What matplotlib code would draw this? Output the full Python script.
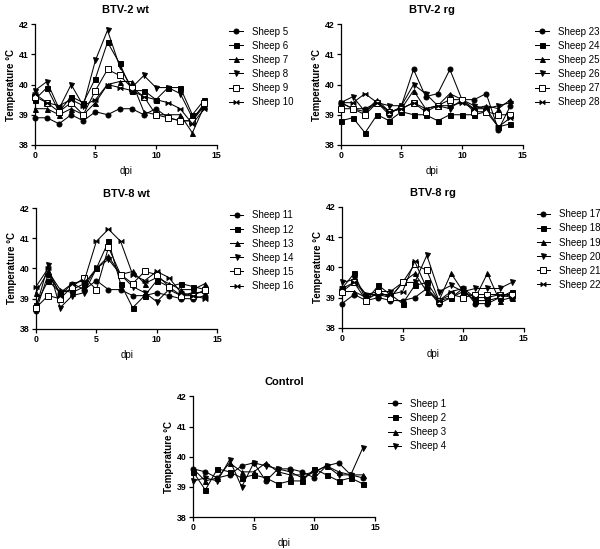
import numpy as np
import matplotlib
matplotlib.use('Agg')
import matplotlib.pyplot as plt
from matplotlib.path import Path

plt.rcParams['font.family'] = ['Liberation Sans', 'DejaVu Sans']

dpi_days = list(range(15))

# BTV-2 wt
btv2wt_names = ['Sheep 5', 'Sheep 6', 'Sheep 7', 'Sheep 8', 'Sheep 9', 'Sheep 10']
btv2wt_vals = [
    [38.9, 38.9, 38.7, 39.0, 38.8, 39.1, 39.0, 39.2, 39.2, 39.0, 39.2, 38.9, 38.8, 38.8, 39.3],
    [39.5, 39.9, 39.1, 39.6, 39.4, 40.2, 41.4, 40.7, 39.8, 39.8, 39.5, 39.9, 39.9, 39.0, 39.5],
    [39.2, 39.2, 39.0, 39.2, 39.0, 39.4, 40.0, 40.1, 40.1, 39.1, 39.0, 39.0, 39.0, 38.4, 39.3],
    [39.8, 40.1, 39.2, 40.0, 39.3, 40.8, 41.8, 40.6, 39.9, 40.3, 39.9, 39.9, 39.7, 38.9, 39.3],
    [39.6, 39.4, 39.1, 39.4, 39.0, 39.8, 40.5, 40.3, 39.9, 39.6, 39.0, 38.9, 38.8, 38.8, 39.4],
    [39.7, 39.4, 39.3, 39.5, 39.3, 39.5, 40.0, 39.9, 39.8, 39.6, 39.5, 39.4, 39.2, 38.7, 39.2],
]

# BTV-2 rg
btv2rg_names = ['Sheep 23', 'Sheep 24', 'Sheep 25', 'Sheep 26', 'Sheep 27', 'Sheep 28']
btv2rg_vals = [
    [39.4, 39.2, 39.2, 39.4, 39.0, 39.3, 40.5, 39.6, 39.7, 40.5, 39.5, 39.5, 39.7, 38.5, 39.3],
    [38.8, 38.9, 38.4, 39.0, 38.8, 39.1, 39.0, 39.0, 38.8, 39.0, 39.0, 39.0, 39.1, 38.6, 38.7],
    [39.4, 39.2, 39.1, 39.5, 39.1, 39.2, 39.8, 39.2, 39.3, 39.7, 39.5, 39.2, 39.3, 39.2, 39.5],
    [39.4, 39.6, 39.1, 39.4, 39.3, 39.3, 40.0, 39.7, 39.3, 39.2, 39.5, 39.3, 39.2, 39.3, 39.4],
    [39.2, 39.2, 39.0, 39.4, 39.1, 39.2, 39.4, 39.1, 39.3, 39.5, 39.5, 39.1, 39.1, 39.0, 39.0],
    [39.4, 39.4, 39.7, 39.4, 39.1, 39.2, 39.4, 39.2, 39.3, 39.3, 39.4, 39.2, 39.2, 38.6, 38.9],
]

# BTV-8 wt
btv8wt_names = ['Sheep 11', 'Sheep 12', 'Sheep 13', 'Sheep 14', 'Sheep 15', 'Sheep 16']
btv8wt_vals = [
    [38.6, 39.8, 39.2, 39.5, 39.3, 39.6, 39.3, 39.3, 39.1, 39.1, 39.2, 39.1, 39.0, 39.0, 39.1],
    [38.8, 39.6, 39.2, 39.3, 39.5, 40.0, 40.9, 39.5, 38.7, 39.1, 39.6, 39.4, 39.5, 39.4, 39.3],
    [39.2, 39.9, 39.3, 39.2, 39.4, 40.0, 40.4, 39.8, 39.9, 39.5, 39.7, 39.5, 39.3, 39.3, 39.5],
    [38.7, 40.1, 38.7, 39.1, 39.2, 40.0, 40.3, 39.8, 39.4, 39.2, 38.9, 39.3, 39.1, 39.2, 39.2],
    [38.7, 39.1, 39.0, 39.4, 39.7, 39.3, 40.7, 39.8, 39.5, 39.9, 39.8, 39.4, 39.1, 39.1, 39.3],
    [39.4, 40.0, 39.1, 39.5, 39.6, 40.9, 41.3, 40.9, 39.8, 39.6, 39.9, 39.7, 39.2, 39.1, 39.0],
]

# BTV-8 rg
btv8rg_names = ['Sheep 17', 'Sheep 18', 'Sheep 19', 'Sheep 20', 'Sheep 21', 'Sheep 22']
btv8rg_vals = [
    [38.8, 39.1, 38.9, 39.0, 38.9, 38.9, 39.0, 39.3, 38.8, 39.0, 39.3, 38.8, 38.8, 39.0, 39.1],
    [39.3, 39.8, 38.9, 39.4, 39.1, 38.8, 39.4, 39.5, 38.9, 39.0, 39.2, 38.9, 38.9, 39.0, 39.2],
    [39.2, 39.2, 39.0, 39.1, 39.0, 39.5, 39.8, 39.2, 38.9, 39.8, 39.2, 39.0, 39.8, 38.9, 39.0],
    [39.5, 39.6, 39.1, 39.2, 39.2, 39.5, 39.5, 40.4, 39.2, 39.4, 39.2, 39.3, 39.3, 39.3, 39.5],
    [39.2, 39.5, 38.9, 39.2, 39.0, 39.5, 40.1, 39.9, 38.9, 39.1, 39.0, 39.1, 39.1, 39.1, 39.1],
    [39.3, 39.5, 39.1, 39.1, 39.1, 39.2, 40.2, 39.3, 38.9, 39.2, 39.3, 39.0, 39.0, 39.1, 39.0],
]

# Control
control_names = ['Sheep 1', 'Sheep 2', 'Sheep 3', 'Sheep 4']
control_vals = [
    [39.6, 39.5, 39.3, 39.4, 39.7, 39.8, 39.2, 39.6, 39.6, 39.5, 39.3, 39.7, 39.8, 39.4, 39.3],
    [39.5, 38.9, 39.6, 39.5, 39.3, 39.4, 39.3, 39.1, 39.2, 39.2, 39.6, 39.4, 39.2, 39.3, 39.1],
    [39.6, 39.2, 39.3, 39.8, 39.5, 39.5, 39.8, 39.5, 39.4, 39.4, 39.5, 39.7, 39.5, 39.4, 39.4],
    [39.2, 39.3, 39.2, 39.9, 39.0, 39.8, 39.7, 39.6, 39.5, 39.3, 39.5, 39.7, 39.4, 39.4, 40.3],
]

# bowtie marker (GraphPad style "x")
bowtie = Path([(-1, -0.8), (-1, 0.8), (0, 0), (1, 0.8), (1, -0.8), (0, 0), (-1, -0.8)],
              [Path.MOVETO, Path.LINETO, Path.LINETO, Path.LINETO, Path.LINETO, Path.LINETO, Path.CLOSEPOLY])

styles = [
    dict(marker='o', mfc='black', ms=3.6),
    dict(marker='s', mfc='black', ms=3.6),
    dict(marker='^', mfc='black', ms=3.6),
    dict(marker='v', mfc='black', ms=3.6),
    dict(marker='s', mfc='white', ms=4.2),
    dict(marker=bowtie, mfc='black', ms=3.6),
]

fig = plt.figure(figsize=(6.0, 5.49), dpi=100)

panels = [
    ('BTV-2 wt', btv2wt_names, btv2wt_vals, [0.058, 0.736, 0.303, 0.220]),
    ('BTV-2 rg', btv2rg_names, btv2rg_vals, [0.568, 0.736, 0.303, 0.220]),
    ('BTV-8 wt', btv8wt_names, btv8wt_vals, [0.060, 0.401, 0.302, 0.220]),
    ('BTV-8 rg', btv8rg_names, btv8rg_vals, [0.570, 0.403, 0.303, 0.220]),
    ('Control', control_names, control_vals, [0.322, 0.058, 0.303, 0.220]),
]

for title, names, vals, pos in panels:
    ax = fig.add_axes(pos)
    for i, (name, v) in enumerate(zip(names, vals)):
        st = styles[i]
        ax.plot(dpi_days, v, color='black', lw=0.75, marker=st['marker'],
                mfc=st['mfc'], mec='black', mew=0.7, ms=st['ms'],
                label=name, clip_on=False, zorder=3)
    ax.set_xlim(0, 15)
    ax.set_ylim(38, 42)
    ax.set_xticks([0, 5, 10, 15])
    ax.set_yticks([38, 39, 40, 41, 42])
    for s in ['top', 'right']:
        ax.spines[s].set_visible(False)
    for s in ['left', 'bottom']:
        ax.spines[s].set_linewidth(0.9)
    ax.tick_params(direction='out', length=3, width=0.9, labelsize=6.3, pad=1.5)
    for lab in ax.get_xticklabels() + ax.get_yticklabels():
        lab.set_fontweight('bold')
    ax.set_title(title, fontsize=8, fontweight='bold', pad=8)
    ax.set_xlabel('dpi', fontsize=7, labelpad=4)
    ax.set_ylabel('Temperature °C', fontsize=7, fontweight='bold', labelpad=2)
    ax.legend(loc='upper left', bbox_to_anchor=(1.07, 0.98), frameon=False,
              fontsize=7, handlelength=1.4, handletextpad=0.9, labelspacing=0.42,
              borderaxespad=0, borderpad=0)

fig.savefig('out.png', dpi=100)
